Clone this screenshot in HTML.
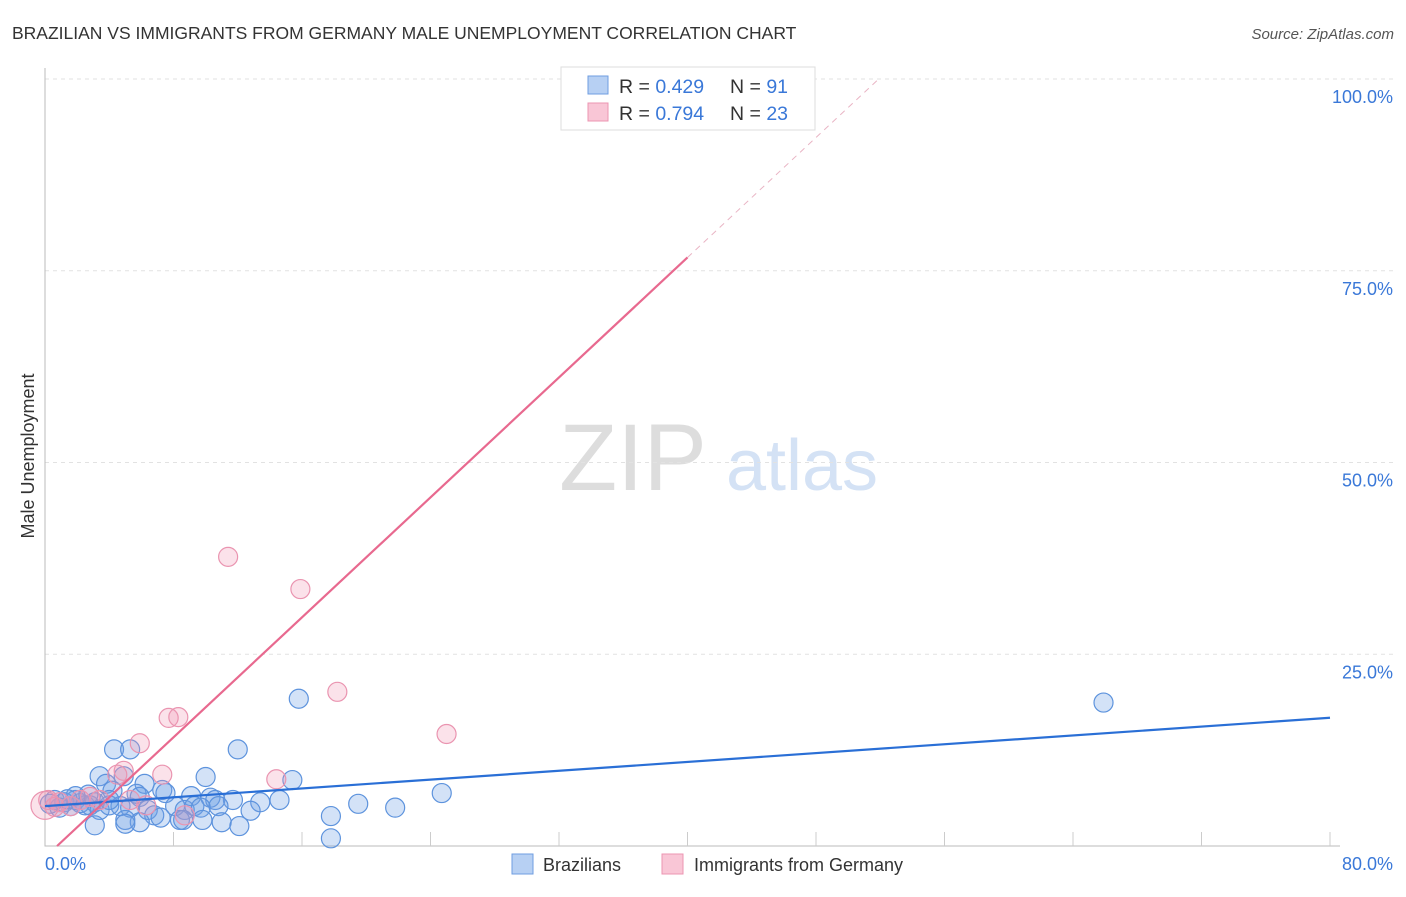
<!DOCTYPE html>
<html><head><meta charset="utf-8"><style>
body{margin:0;background:#fff;font-family:"Liberation Sans",sans-serif}
svg text{font-family:"Liberation Sans",sans-serif}
</style></head><body>
<svg id="chart" width="1406" height="892">
<text x="12" y="39" font-size="17.5" fill="#333">BRAZILIAN VS IMMIGRANTS FROM GERMANY MALE UNEMPLOYMENT CORRELATION CHART</text>
<text x="1394" y="39" font-size="15" fill="#555" font-style="italic" text-anchor="end">Source: ZipAtlas.com</text>
<text x="34" y="456" font-size="18" fill="#333" transform="rotate(-90 34 456)" text-anchor="middle">Male Unemployment</text>
<g>
<text x="633" y="490" font-size="95" fill="#ddd" font-family="Liberation Serif" text-anchor="middle">ZIP</text>
<text x="802" y="490" font-size="72" fill="#d4e2f5" text-anchor="middle">atlas</text>
</g>
<g id="grid"></g><g id="axes"></g><g id="pts"></g><g id="lines"></g>
<g>
<rect x="561" y="67" width="254" height="63" fill="#fff" stroke="#ddd"/>
<rect x="588" y="76" width="20" height="18" fill="#b7d0f3" stroke="#6f9ee0"/>
<rect x="588" y="103" width="20" height="18" fill="#f9c6d6" stroke="#ec95b2"/>
<text x="619" y="93" font-size="19.5" fill="#333">R = <tspan fill="#3a78d8">0.429</tspan><tspan x="730">N = </tspan><tspan fill="#3a78d8">91</tspan></text>
<text x="619" y="120" font-size="19.5" fill="#333">R = <tspan fill="#3a78d8">0.794</tspan><tspan x="730">N = </tspan><tspan fill="#3a78d8">23</tspan></text>
</g>
<g>
<rect x="512" y="854" width="21" height="20" fill="#b7d0f3" stroke="#6f9ee0"/>
<text x="543" y="871" font-size="18" fill="#333">Brazilians</text>
<rect x="662" y="854" width="21" height="20" fill="#f9c6d6" stroke="#ec95b2"/>
<text x="694" y="871" font-size="18" fill="#333">Immigrants from Germany</text>
</g>
</svg>
<script>
const yTicks=[25,50,75,100];
const yTickLabels=["25.0%","50.0%","75.0%","100.0%"];
const xTicks=[0,8,16,24,32,40,48,56,64,72,80];
const blueX=[15.8,65.9,4.3,5.3,12.0,10.0,15.4,3.4,6.2,4.9,3.8,4.2,5.7,7.3,7.5,9.1,10.3,11.7,13.4,14.6,10.6,12.8,5.9,0.6,1.2,1.9,2.5,3.1,0.9,1.6,2.2,2.8,0.3,3.4,4.0,4.7,5.3,6.4,6.8,8.1,8.7,9.3,9.7,10.8,11.0,9.8,8.4,7.2,5.9,5.0,3.1,5.0,17.8,17.8,19.5,21.8,24.7,12.1,8.6,4.0,2.7,1.9,1.4];
const blueY=[19.2,18.7,12.6,12.6,12.6,9.0,8.6,9.1,8.1,9.1,8.1,7.2,6.8,7.3,6.9,6.5,6.3,6.0,5.7,6.0,6.0,4.6,6.4,6.0,5.7,6.0,5.3,5.7,5.0,5.2,5.6,5.3,5.5,4.7,5.3,5.2,5.0,4.7,4.0,5.2,4.7,5.2,5.0,5.2,3.1,3.4,3.4,3.7,3.1,3.4,2.7,2.9,3.9,1.0,5.5,5.0,6.9,2.6,3.4,6.0,6.7,6.5,6.1];
const pinkX=[11.4,15.9,18.2,7.7,8.3,5.9,25.0,7.3,4.9,14.4,8.7,4.5,0.2,0.9,2.2,3.4,6.3,5.3,2.8,1.6,0.6,0.0];
const pinkY=[37.7,33.5,20.1,16.7,16.8,13.4,14.6,9.3,9.8,8.7,4.0,9.3,6.0,5.7,6.0,6.0,5.3,6.0,6.4,5.2,5.1,5.3];
const blueFit=[5.2,0.144];   // intercept, slope
const pinkFit=[-1.47,1.955];
const X=v=>45+v/80*1285, Y=v=>846-v/100*767;
const NS="http://www.w3.org/2000/svg";
function mk(p,t,a){const e=document.createElementNS(NS,t);for(const k in a)e.setAttribute(k,a[k]);p.appendChild(e);return e;}
const grid=document.getElementById('grid'),axes=document.getElementById('axes'),pts=document.getElementById('pts'),lines=document.getElementById('lines');
yTicks.forEach((t,i)=>{
 const l=mk(grid,'line',{x1:45,x2:1394,y1:Y(t),y2:Y(t),stroke:'#e2e2e2','stroke-dasharray':'4,4'});
 
 
 const tx=mk(axes,'text',{x:1393,y:Y(t)+24,'font-size':18,fill:'#3a78d8','text-anchor':'end'});tx.textContent=yTickLabels[i];
 
 
});
const ax=mk(axes,'path',{d:`M45 68V846H1340`,stroke:'#bbb',fill:'none'});


xTicks.forEach(t=>{if(t>0){const k=mk(axes,'line',{x1:X(t),x2:X(t),y1:832,y2:846,stroke:'#ccc'});
 
 }});
const xl=mk(axes,'text',{x:45,y:870,'font-size':18,fill:'#3a78d8'});xl.textContent='0.0%';


const xr=mk(axes,'text',{x:1393,y:870,'font-size':18,fill:'#3a78d8','text-anchor':'end'});xr.textContent='80.0%';


blueX.forEach((x,i)=>{const c=mk(pts,'circle',{cx:X(x),cy:Y(blueY[i]),r:9.5,fill:'rgba(110,160,230,0.3)',stroke:'#5d93dd','stroke-width':1.2});
 
 });
pinkX.forEach((x,i)=>{const c=mk(pts,'circle',{cx:X(x),cy:Y(pinkY[i]),r:i==pinkX.length-1?14:9.5,fill:'rgba(240,150,180,0.28)',stroke:'#ea94b0','stroke-width':1.2});
 
 });
const bl=mk(lines,'line',{x1:X(0),y1:Y(blueFit[0]),x2:X(80),y2:Y(blueFit[0]+blueFit[1]*80),stroke:'#2a6fd6','stroke-width':2.2});


const x0=-pinkFit[0]/pinkFit[1];
const ps=mk(lines,'line',{x1:X(x0),y1:Y(0),x2:X(40),y2:Y(pinkFit[0]+pinkFit[1]*40),stroke:'#e8698f','stroke-width':2.2});


const x1=(100-pinkFit[0])/pinkFit[1];
const pd=mk(lines,'line',{x1:X(40),y1:Y(pinkFit[0]+pinkFit[1]*40),x2:X(x1),y2:Y(100),stroke:'#e9b4c4','stroke-width':1,'stroke-dasharray':'6,5'});


</script>
</body></html>
